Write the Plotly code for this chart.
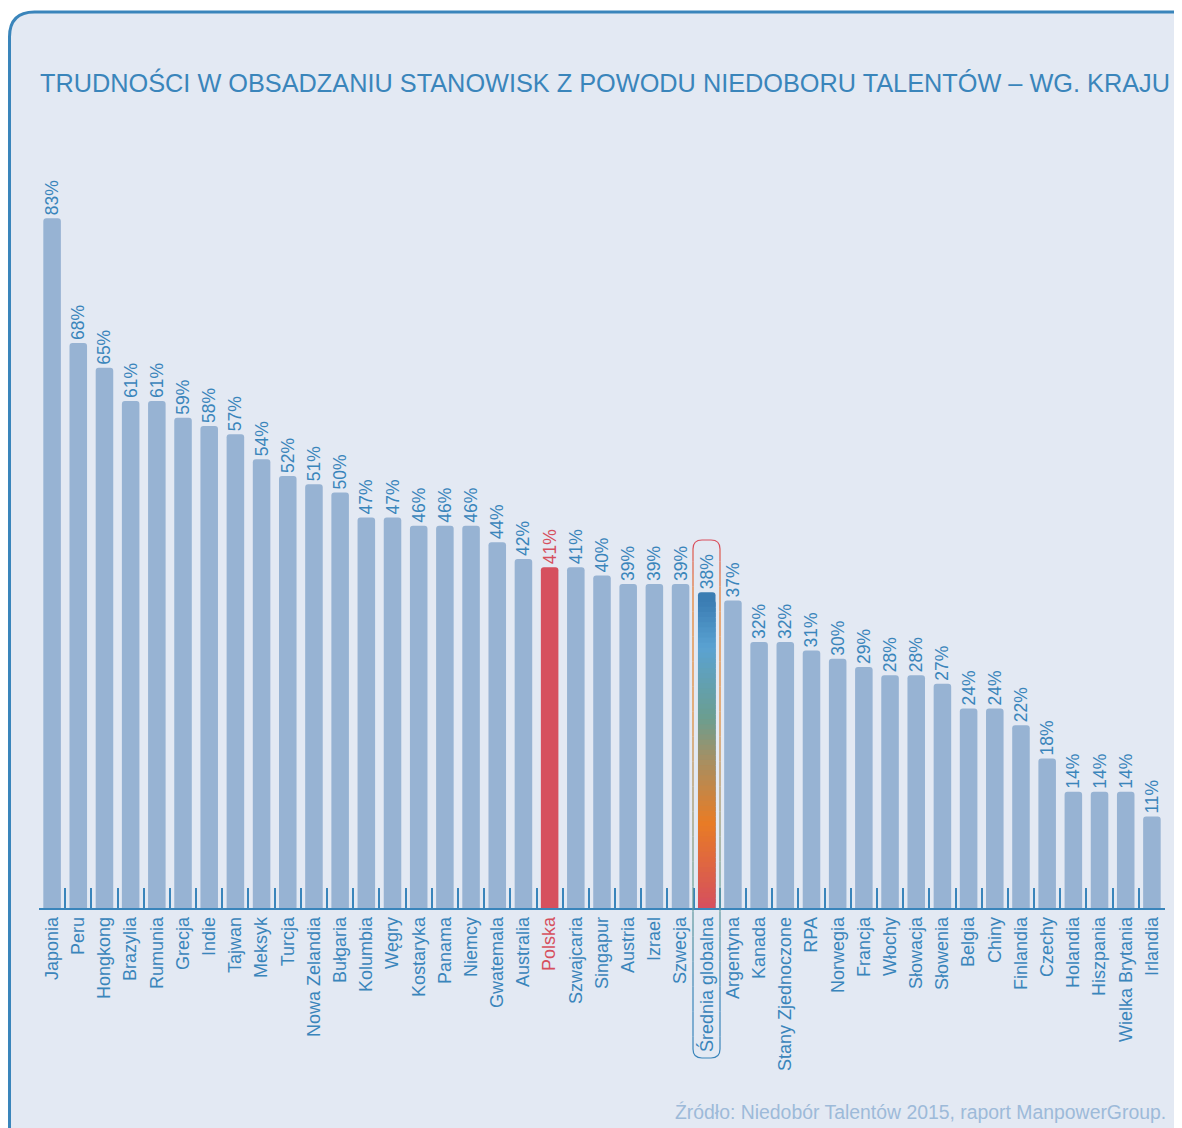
import plotly.graph_objects as go

countries = [
    "Japonia", "Peru", "Hongkong", "Brazylia", "Rumunia", "Grecja", "Indie",
    "Tajwan", "Meksyk", "Turcja", "Nowa Zelandia", "Bułgaria", "Kolumbia",
    "Węgry", "Kostaryka", "Panama", "Niemcy", "Gwatemala", "Australia",
    "Polska", "Szwajcaria", "Singapur", "Austria", "Izrael", "Szwecja",
    "Średnia globalna", "Argentyna", "Kanada", "Stany Zjednoczone", "RPA",
    "Norwegia", "Francja", "Włochy", "Słowacja", "Słowenia", "Belgia", "Chiny",
    "Finlandia", "Czechy", "Holandia", "Hiszpania", "Wielka Brytania", "Irlandia",
]
shares = [
    83, 68, 65, 61, 61, 59, 58, 57, 54, 52, 51, 50, 47, 47, 46, 46, 46, 44, 42,
    41, 41, 40, 39, 39, 39, 38, 37, 32, 32, 31, 30, 29, 28, 28, 27, 24, 24, 22,
    18, 14, 14, 14, 11,
]
highlight = "Polska"
average = "Średnia globalna"

BLUE = "#3a85bb"
BAR = "#97b3d3"
RED = "#d6505e"
BG = "#e3e9f3"
FONT = "Liberation Sans, Arial, sans-serif"

# the page puts the figure 8px in from the top-left corner
OFF = 8
W, H = 1174, 1120
L, R, T, B = 31, 17, 142, 220
PW, PH = W - L - R, H - T - B


def px(x):
    # screen pixel -> paper x
    return (x - OFF - L) / PW


def py(y):
    # screen pixel -> paper y
    return (H - B - (y - OFF)) / PH


def hex2rgb(h):
    return tuple(int(h[i:i + 2], 16) for i in (1, 3, 5))


def mix(stops, f):
    for (f0, c0), (f1, c1) in zip(stops, stops[1:]):
        if f0 <= f <= f1:
            t = (f - f0) / (f1 - f0) if f1 > f0 else 0
            a, b = hex2rgb(c0), hex2rgb(c1)
            return "rgb(%d,%d,%d)" % tuple(round(a[i] + (b[i] - a[i]) * t) for i in range(3))
    return stops[-1][1]


# bottom -> top colours of the average bar
bar_stops = [(0, "#d54f5f"), (0.28, "#e87c25"), (0.48, "#a78f62"),
             (0.62, "#6b9e90"), (0.85, "#5aa2d2"), (1.0, "#3b7db3")]

colors = [RED if c == highlight else ("#3b7db3" if c == average else BAR) for c in countries]
text_colors = [RED if c == highlight else BLUE for c in countries]
ticktext = [f'<span style="color:{RED}">{c}</span>' if c == highlight else c for c in countries]

fig = go.Figure()
fig.add_trace(go.Bar(
    x=countries, y=shares,
    marker=dict(color=colors, line_width=0, cornerradius=3),
    texttemplate="%{y}%", textposition="outside", textangle=-90,
    textfont=dict(family=FONT, size=17.5, color=text_colors),
    constraintext="none", cliponaxis=False, hoverinfo="skip",
))

# gradient fill for the global average bar, built as thin overlapping segments
avg_val = shares[countries.index(average)]
n = 60
top = avg_val * 0.97
seg = top / n
fig.add_trace(go.Bar(
    x=[average] * n,
    y=[min(seg * 1.8, top - seg * k) for k in range(n)],
    base=[seg * k for k in range(n)],
    marker=dict(color=[mix(bar_stops, (k + 0.5) / n) for k in range(n)], line_width=0),
    hoverinfo="skip",
))

shapes = []
# rounded frame
x0, y0, x1, y1, r = 9.5, 12, 1240, 1190, 25
frame = (f"M {px(x0)},{py(y0 + r)} Q {px(x0)},{py(y0)} {px(x0 + r)},{py(y0)} "
         f"L {px(x1 - r)},{py(y0)} Q {px(x1)},{py(y0)} {px(x1)},{py(y0 + r)} "
         f"L {px(x1)},{py(y1)} L {px(x0)},{py(y1)} Z")
shapes.append(dict(type="path", xref="paper", yref="paper", path=frame,
                   fillcolor=BG, line=dict(color=BLUE, width=3), layer="below"))

# outline around the global average column
bx0, bx1, by0, by1, br = 693, 720, 540, 1058, 9
outline_stops = [(540, "#d94f5c"), (600, "#e87c25"), (720, "#e0862e"),
                 (880, "#6b9e90"), (1000, BLUE), (1058, BLUE)]
shapes.append(dict(type="path", xref="paper", yref="paper", layer="above",
                   path=(f"M {px(bx0)},{py(by0 + br)} Q {px(bx0)},{py(by0)} {px(bx0 + br)},{py(by0)} "
                         f"L {px(bx1 - br)},{py(by0)} Q {px(bx1)},{py(by0)} {px(bx1)},{py(by0 + br)}"),
                   line=dict(color="#d94f5c", width=1.2)))
shapes.append(dict(type="path", xref="paper", yref="paper", layer="above",
                   path=(f"M {px(bx0)},{py(by1 - br)} Q {px(bx0)},{py(by1)} {px(bx0 + br)},{py(by1)} "
                         f"L {px(bx1 - br)},{py(by1)} Q {px(bx1)},{py(by1)} {px(bx1)},{py(by1 - br)}"),
                   line=dict(color=BLUE, width=1.2)))
steps = 40
ys = [by0 + br + (by1 - by0 - 2 * br) * k / steps for k in range(steps + 1)]
for ya, yb in zip(ys, ys[1:]):
    c = mix(outline_stops, (ya + yb) / 2)
    for bx in (bx0, bx1):
        shapes.append(dict(type="line", xref="paper", yref="paper", layer="above",
                           x0=px(bx), x1=px(bx), y0=py(ya), y1=py(yb),
                           line=dict(color=c, width=1.2)))

annotations = [
    dict(text="TRUDNOŚCI W OBSADZANIU STANOWISK Z POWODU NIEDOBORU TALENTÓW – WG. KRAJU",
         xref="paper", yref="paper", x=px(38), y=py(82), xanchor="left", yanchor="middle",
         showarrow=False, font=dict(family=FONT, size=25.3, color=BLUE)),
    dict(text="Źródło: Niedobór Talentów 2015, raport ManpowerGroup.",
         xref="paper", yref="paper", x=px(1168), y=py(1112), xanchor="right", yanchor="middle",
         showarrow=False, font=dict(family=FONT, size=19.4, color="#9dbad9")),
]

fig.update_layout(
    width=W, height=H, autosize=False,
    margin=dict(l=L, r=R, t=T, b=B),
    paper_bgcolor="white", plot_bgcolor="rgba(0,0,0,0)",
    barmode="overlay", bargap=0.33, showlegend=False,
    shapes=shapes, annotations=annotations,
    font=dict(family=FONT, color=BLUE),
)
fig.update_xaxes(
    type="category", tickmode="array", tickvals=countries, ticktext=ticktext,
    tickangle=-90, tickfont=dict(family=FONT, size=18, color=BLUE),
    showline=True, linecolor=BLUE, linewidth=1.5,
    ticks="inside", tickson="boundaries", ticklen=20, tickwidth=1.5, tickcolor=BLUE,
    showgrid=False, range=[-0.5, len(countries) - 0.5],
)
fig.update_yaxes(visible=False, range=[0, PH / 8.31])

fig.write_html("out.html")
